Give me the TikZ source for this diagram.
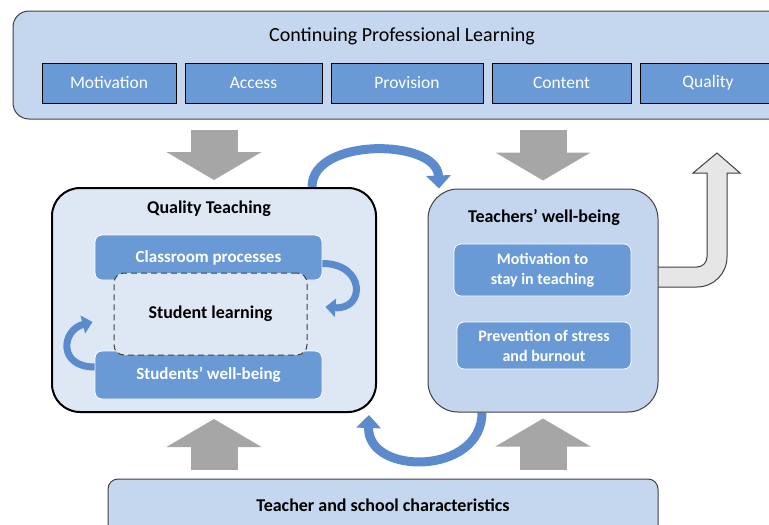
\documentclass[tikz,border=0pt]{standalone}
\usepackage{fontspec}
\setmainfont{Carlito}
\usetikzlibrary{arrows.meta, backgrounds}
\definecolor{cplfill}{HTML}{C5D7EE}
\definecolor{facetfill}{HTML}{6A9AD6}
\definecolor{qtfill}{HTML}{DEE8F5}
\definecolor{twfill}{HTML}{C3D6EE}
\definecolor{ribbon}{HTML}{5B8BCD}
\definecolor{blockgray}{HTML}{A6A6A6}
\definecolor{exitfill}{HTML}{E6E6E6}
\definecolor{edge}{HTML}{404040}

\begin{document}
\begin{tikzpicture}[x = 1pt, y = -1pt,
        facet/.style = {draw = black, line width = 0.8pt, fill = facetfill, text = white,
            minimum height = 40pt, inner sep = 0pt, font = \fontsize{17.5}{20}\selectfont},
        inbox/.style = {draw = white, line width = 0.8pt, fill = facetfill, text = white,
            rounded corners = 7pt, inner sep = 0pt, align = center,
            font = \bfseries\fontsize{17}{20}\selectfont},
        head/.style = {font = \bfseries\fontsize{18}{20}\selectfont},
        block/.style = {line width = 47pt, blockgray,
            -{Triangle[width = 94pt, length = 28pt]}},
        swirl/.style = {line width = 9pt, ribbon,
            -{Triangle[width = 24pt, length = 13pt]}},
        curl/.style = {line width = 7pt, ribbon,
            -{Triangle[width = 18pt, length = 10pt]}}]
        \useasboundingbox (0, 0) rectangle (769, 525);
        \node[draw = edge, line width = 1pt, fill = cplfill, rounded corners = 16pt,
            minimum width = 772pt, minimum height = 108pt] (cpl) at (399, 65) {};
        \node[font = \fontsize{20}{22}\selectfont] (cplt) at (402, 36) {Continuing Professional Learning};
        \node[facet, minimum width = 134pt] (motiv) at (109, 83) {Motivation};
        \node[facet, minimum width = 137pt] (access) at (253.5, 83) {Access};
        \node[facet, minimum width = 152pt] (prov) at (407, 83) {Provision};
        \node[facet, minimum width = 139pt] (content) at (561.5, 83) {Content};
        \node[facet, minimum width = 136pt] (quality) at (708, 83) {Quality};

        \node[draw = black, line width = 2pt, fill = qtfill, rounded corners = 28pt,
            minimum width = 324pt, minimum height = 224pt] (qt) at (214, 300) {};
        \node[head] (qtt) at (209, 209) {Quality Teaching};
        \node[inbox, minimum width = 227pt, minimum height = 45pt] (cp) at (208.5, 257.5) {Classroom processes};
        \node[inbox, minimum width = 227pt, minimum height = 48pt] (sw) at (208.5, 375) {Students’ well-being};
        \node[head, draw = edge, dash pattern = on 6pt off 4pt, line width = 1pt, fill = qtfill, rounded corners = 10pt,
            minimum width = 193pt, minimum height = 82pt] (sl) at (210.5, 314) {Student learning};

        \node[draw = edge, line width = 1pt, fill = twfill, rounded corners = 30pt,
            minimum width = 230pt, minimum height = 223pt] (tw) at (543, 300.5) {};
        \node[head] (twt) at (544, 217) {Teachers’ well-being};
        \node[inbox, minimum width = 177pt, minimum height = 52pt,
            font = \bfseries\fontsize{16}{20}\selectfont] (mst) at (542.5, 270) {Motivation to\\stay in teaching};
        \node[inbox, minimum width = 174pt, minimum height = 47pt,
            font = \bfseries\fontsize{16}{20}\selectfont] (psb) at (544, 345.5) {Prevention of stress\\and burnout};

        \node[draw = edge, line width = 1pt, fill = cplfill, rounded corners = 10pt,
            minimum width = 550pt, minimum height = 66pt] (tsc) at (383, 512) {};
        \node[head] (tsct) at (383, 505) {Teacher and school characteristics};

        \begin{scope}[on background layer]
            \draw[block, shorten <= 10pt, shorten >= 7pt] (qt.north |- cpl.south) -- (qt.north);
            \draw[block, shorten <= 10pt, shorten >= 8pt] (tw.north |- cpl.south) -- (tw.north);
            \draw[block, shorten <= 9pt, shorten >= 6pt] (qt.south |- tsc.north) -- (qt.south);
            \draw[block, shorten <= 9pt, shorten >= 6pt] (tw.south |- tsc.north) -- (tw.south);
            \draw[swirl] ([xshift = 98pt]qt.north) .. controls +(0, -50) and +(-2, -50) .. ([xshift = -104pt]tw.north);
            \draw[swirl] ([xshift = -61pt]tw.south) .. controls +(0, 63) and +(-2, 61) .. ([xshift = -8pt, yshift = -2pt]qt.south east);
            \filldraw[draw = edge, line width = 1pt, fill = exitfill] (650, 267) -- (697, 267)
                arc[start angle = 90, end angle = 0, radius = 10] -- (707, 173) -- (693, 173)
                -- (717, 153) -- (740, 173) -- (727, 173) -- (727, 257)
                arc[start angle = 0, end angle = 90, radius = 30] -- (650, 287) -- cycle;
        \end{scope}
        \draw[curl] ([yshift = -6pt]cp.east) .. controls +(43, 0) and +(40, 3) .. ([xshift = 18pt, yshift = 7pt]sl.east);
        \draw[curl] ([yshift = 8pt]sw.west) .. controls +(-37, 0) and +(-31, 8) .. ([xshift = -21pt, yshift = -8pt]sl.west);
    \end{tikzpicture}
\end{document}
